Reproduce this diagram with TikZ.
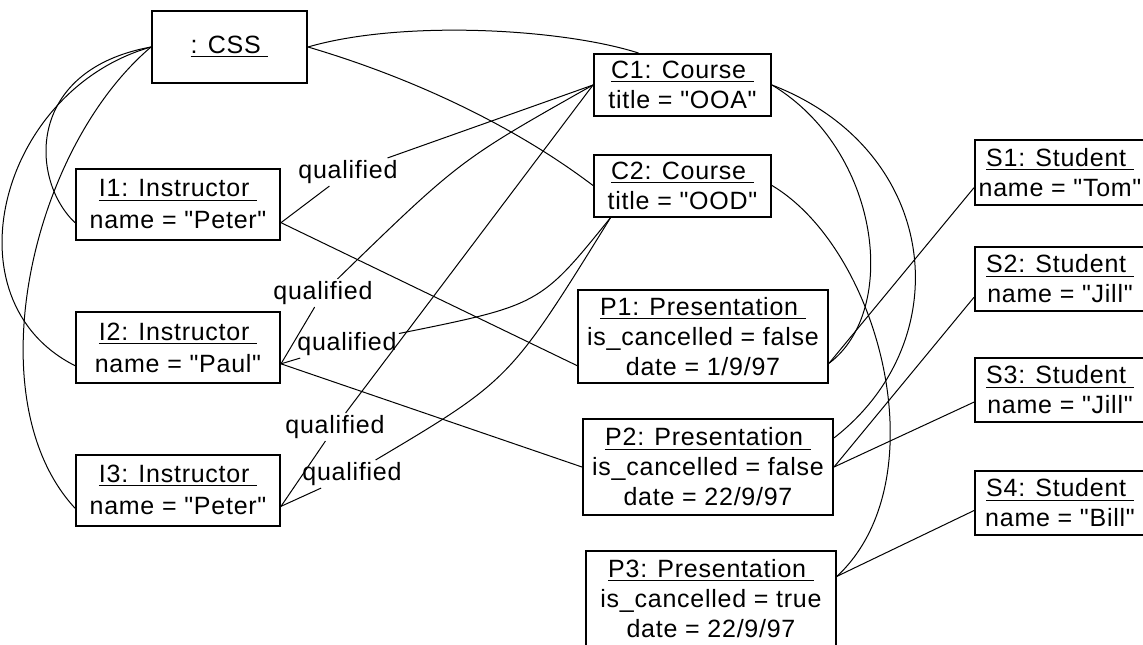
\documentclass[tikz,border=0pt]{standalone}
\usepackage{fontspec}
\setmainfont{Liberation Sans}[LetterSpace=3,Ligatures=TeXOff]
\begin{document}
\begin{tikzpicture}[x=0.5pt,y=-0.5pt,
  obj/.style={draw,line width=1pt,align=center,inner sep=0pt,font=\fontsize{12.5}{15}\selectfont},
  conn/.style={line width=0.5pt},
  qual/.style={inner sep=1pt,font=\fontsize{12.5}{15}\selectfont}]
\useasboundingbox (0,0) rectangle (1143,644);
\clip (0,0) rectangle (1143,644);
\node[obj,minimum width=77.5pt,minimum height=36pt] (css) at (229.5,47) {\underline{: CSS\ }};
\node[obj,minimum width=88.5pt,minimum height=31pt] (C1) at (682.5,85) {\underline{C1: Course\ }\\title = "OOA"};
\node[obj,minimum width=88.5pt,minimum height=31pt] (C2) at (682.5,185.5) {\underline{C2: Course\ }\\title = "OOD"};
\node[obj,minimum width=102pt,minimum height=35.5pt] (I1) at (178,204.5) {\underline{I1: Instructor\ }\\[1pt]name = "Peter"};
\node[obj,minimum width=102pt,minimum height=35.5pt] (I2) at (178,347.5) {\underline{I2: Instructor\ }\\[1pt]name = "Paul"};
\node[obj,minimum width=102pt,minimum height=35.5pt] (I3) at (178,490) {\underline{I3: Instructor\ }\\[1pt]name = "Peter"};
\node[obj,minimum width=125pt,minimum height=46.5pt] (P1) at (703,336.5) {\underline{P1: Presentation\ }\\is\_cancelled = false\\date = 1/9/97};
\node[obj,minimum width=125pt,minimum height=48pt] (P2) at (708,467) {\underline{P2: Presentation\ }\\is\_cancelled = false\\date = 22/9/97};
\node[obj,minimum width=125pt,minimum height=47.5pt] (P3) at (711,598.5) {\underline{P3: Presentation\ }\\is\_cancelled = true\\date = 22/9/97};
\node[obj,minimum width=85pt,minimum height=32.5pt] (S1) at (1060,172.5) {\underline{S1: Student\ }\\name = "Tom"};
\node[obj,minimum width=85pt,minimum height=32pt] (S2) at (1060,279) {\underline{S2: Student\ }\\name = "Jill"};
\node[obj,minimum width=85pt,minimum height=32pt] (S3) at (1060,390) {\underline{S3: Student\ }\\name = "Jill"};
\node[obj,minimum width=85pt,minimum height=32pt] (S4) at (1060,503) {\underline{S4: Student\ }\\name = "Bill"};
\node[qual] (q1) at (348,172) {qualified};
\node[qual] (q2) at (323,293) {qualified};
\node[qual] (q3) at (347,344) {qualified};
\node[qual] (q4) at (335,427) {qualified};
\node[qual] (q5) at (352,474) {qualified};
\draw[conn] (css.east) .. controls (400,20) and (560,28) .. (C1.144);
\draw[conn] (css.east) .. controls (420,80) and (520,130) .. (C2.west);
\draw[conn] (css.west) .. controls (25,70) and (30,180) .. (I1.190);
\draw[conn] (css.west) .. controls (0,90) and (-55,300) .. (I2.190);
\draw[conn] (css.west) .. controls (30,150) and (-25,400) .. (I3.190);
\draw[conn] (I1.-10) -- (q1) -- (C1.west);
\draw[conn] (I2.-9) -- (q2) .. controls (460,160) .. (C1.west);
\draw[conn] (I2.-9) -- (q3) .. controls (540,305) .. (C2.204);
\draw[conn] (I3.-9) -- (q4) -- (C1.west);
\draw[conn] (I3.-9) -- (q5) .. controls (510,380) .. (C2.204);
\draw[conn] (I1.-10) -- (P1.193);
\draw[conn] (I2.-9) -- (P2.west);
\draw[conn] (C1.east) .. controls (880,150) and (900,310) .. (P1.-12);
\draw[conn] (C1.east) .. controls (940,150) and (960,340) .. (P2.13);
\draw[conn] (C2.east) .. controls (880,250) and (940,480) .. (P3.10);
\draw[conn] (P1.-12) -- (S1.190);
\draw[conn] (P2.east) -- (S2.192);
\draw[conn] (P2.east) -- (S3.188);
\draw[conn] (P3.10) -- (S4.185);
\end{tikzpicture}
\end{document}
